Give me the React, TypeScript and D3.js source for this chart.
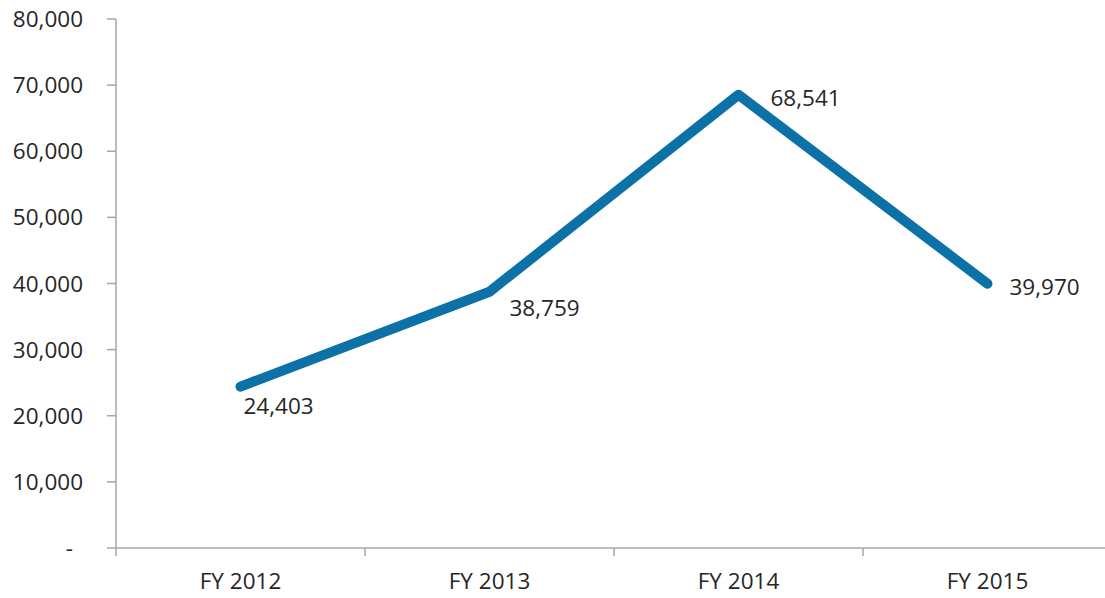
import React from "react";
import * as d3 from "d3";

const categories = ["FY 2012", "FY 2013", "FY 2014", "FY 2015"];
const values = [24403, 38759, 68541, 39970];
const yTicks = [0, 10000, 20000, 30000, 40000, 50000, 60000, 70000, 80000];
const labelPlacement = ["below", "below", "right", "right"];

export default function App() {
  const W = 1105, H = 598;
  const left = 116, right = 1112, top = 19, bottom = 548;
  const x = d3.scaleBand<string>().domain(categories).range([left, right]);
  const y = d3.scaleLinear().domain([0, 80000]).range([bottom, top]);
  const fmt = d3.format(",");
  const line = d3
    .line<number>()
    .x((_, i) => x(categories[i])! + x.bandwidth() / 2)
    .y((d) => y(d));
  const font = "'Open Sans', 'Liberation Sans', sans-serif";
  const fs = 22.5;
  const textColor = "#262626";
  const axisColor = "#a6a6a6";
  const boundaries = categories.map((c) => x(c)!).concat([right]);

  return (
    <svg
      width={W}
      height={H}
      style={{ position: "absolute", left: 0, top: 0, background: "#fff" }}
    >
      {/* Y axis */}
      <line x1={left} x2={left} y1={top} y2={bottom} stroke={axisColor} strokeWidth={1.5} />
      {yTicks.map((t) => (
        <g key={t}>
          <line x1={left - 9} x2={left} y1={y(t)} y2={y(t)} stroke={axisColor} strokeWidth={1.5} />
          <text
            x={t === 0 ? 73 : 83}
            y={y(t)}
            dy="0.36em"
            textAnchor="end"
            fontFamily={font}
            fontSize={fs}
            fill={textColor}
          >
            {t === 0 ? "-" : fmt(t)}
          </text>
        </g>
      ))}
      {/* X axis */}
      <line x1={left} x2={right} y1={bottom} y2={bottom} stroke={axisColor} strokeWidth={1.5} />
      {boundaries.map((b, i) => (
        <line key={i} x1={b} x2={b} y1={bottom} y2={bottom + 8} stroke={axisColor} strokeWidth={1.5} />
      ))}
      {categories.map((c) => (
        <text
          key={c}
          x={x(c)! + x.bandwidth() / 2}
          y={589}
          textAnchor="middle"
          fontFamily={font}
          fontSize={fs}
          fill={textColor}
        >
          {c}
        </text>
      ))}
      {/* Line */}
      <path
        d={line(values) || ""}
        fill="none"
        stroke="#0b71a7"
        strokeWidth={10}
        strokeLinecap="round"
        strokeLinejoin="round"
      />
      {/* Labels */}
      {values.map((v, i) => {
        const cx = x(categories[i])! + x.bandwidth() / 2;
        const cy = y(v);
        const p = labelPlacement[i];
        const dx = p === "below" ? (i === 0 ? 3 : 20) : i === 2 ? 32 : 22;
        const dy = p === "below" ? (i === 0 ? 19 : 16) : 3;
        return (
          <text
            key={i}
            x={cx + dx}
            y={cy + dy}
            dy="0.36em"
            fontFamily={font}
            fontSize={fs}
            fill={textColor}
          >
            {fmt(v)}
          </text>
        );
      })}
    </svg>
  );
}
